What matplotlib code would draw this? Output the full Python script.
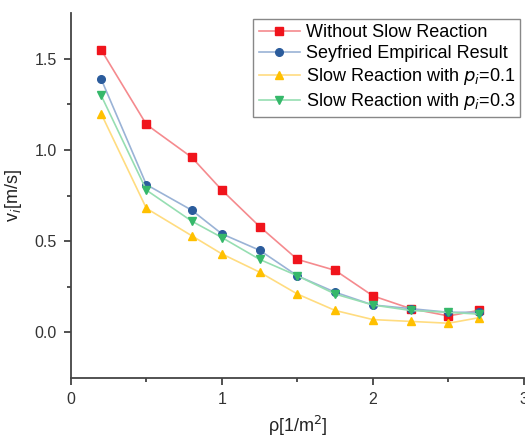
import matplotlib.pyplot as plt

plt.rcParams["font.family"] = ["Liberation Sans", "DejaVu Sans"]

rho = [0.2, 0.5, 0.8, 1.0, 1.25, 1.5, 1.75, 2.0, 2.25, 2.5, 2.7]
v_no_slow = [1.55, 1.14, 0.96, 0.78, 0.58, 0.40, 0.34, 0.20, 0.13, 0.09, 0.12]
v_seyfried = [1.39, 0.81, 0.67, 0.54, 0.45, 0.31, 0.22, 0.15, 0.13, 0.11, 0.11]
v_p01 = [1.20, 0.68, 0.53, 0.43, 0.33, 0.21, 0.12, 0.07, 0.06, 0.05, 0.08]
v_p03 = [1.30, 0.78, 0.61, 0.52, 0.40, 0.31, 0.21, 0.15, 0.12, 0.11, 0.10]

fig = plt.figure(figsize=(5.25, 4.41), dpi=100)
ax = fig.add_axes([0.135, 0.143, 0.863, 0.827])

series = [
    (v_no_slow, "s", "#f0141c", "#f58a8e", "Without Slow Reaction"),
    (v_seyfried, "o", "#2b5c9c", "#9ab3d6", "Seyfried Empirical Result"),
    (v_p01, "^", "#ffc000", "#ffdc80", "Slow Reaction with $p_i$=0.1"),
    (v_p03, "v", "#35b86a", "#96deb2", "Slow Reaction with $p_i$=0.3"),
]
for vals, mk, mc, lc, lab in series:
    ax.plot(rho, vals, color=lc, lw=1.2, marker=mk, markersize=5.5,
            markerfacecolor=mc, markeredgecolor=mc, label=lab)

ax.set_xlim(0, 3)
ax.set_ylim(-0.25, 1.75)
ax.set_xticks([0, 1, 2, 3])
ax.set_xticks([0.5, 1.5, 2.5], minor=True)
ax.set_yticks([0.0, 0.5, 1.0, 1.5])
ax.set_yticks([0.25, 0.75, 1.25], minor=True)
ax.set_yticklabels(["0.0", "0.5", "1.0", "1.5"])
ax.tick_params(which="major", direction="out", length=5, width=1.2,
               labelsize=11.5, colors="#333333", pad=5)
ax.tick_params(which="minor", direction="out", length=3, width=1.2,
               colors="#333333")

ax.spines["top"].set_visible(False)
ax.spines["right"].set_visible(False)
for s in ["left", "bottom"]:
    ax.spines[s].set_linewidth(1.3)
    ax.spines[s].set_color("#444444")

ax.set_xlabel("ρ[1/m$^2$]", fontsize=13, labelpad=5, color="#222222")
ax.set_ylabel("v$_i$[m/s]", fontsize=13, labelpad=8, color="#222222")

leg = ax.legend(loc="upper right", bbox_to_anchor=(1.0, 0.995), fontsize=13,
                handlelength=2.3, handletextpad=0.3, labelspacing=0.22,
                borderpad=0.3, borderaxespad=0.2, fancybox=False, framealpha=1)
leg.get_frame().set_edgecolor("#888888")

fig.savefig("out.png", dpi=100)
